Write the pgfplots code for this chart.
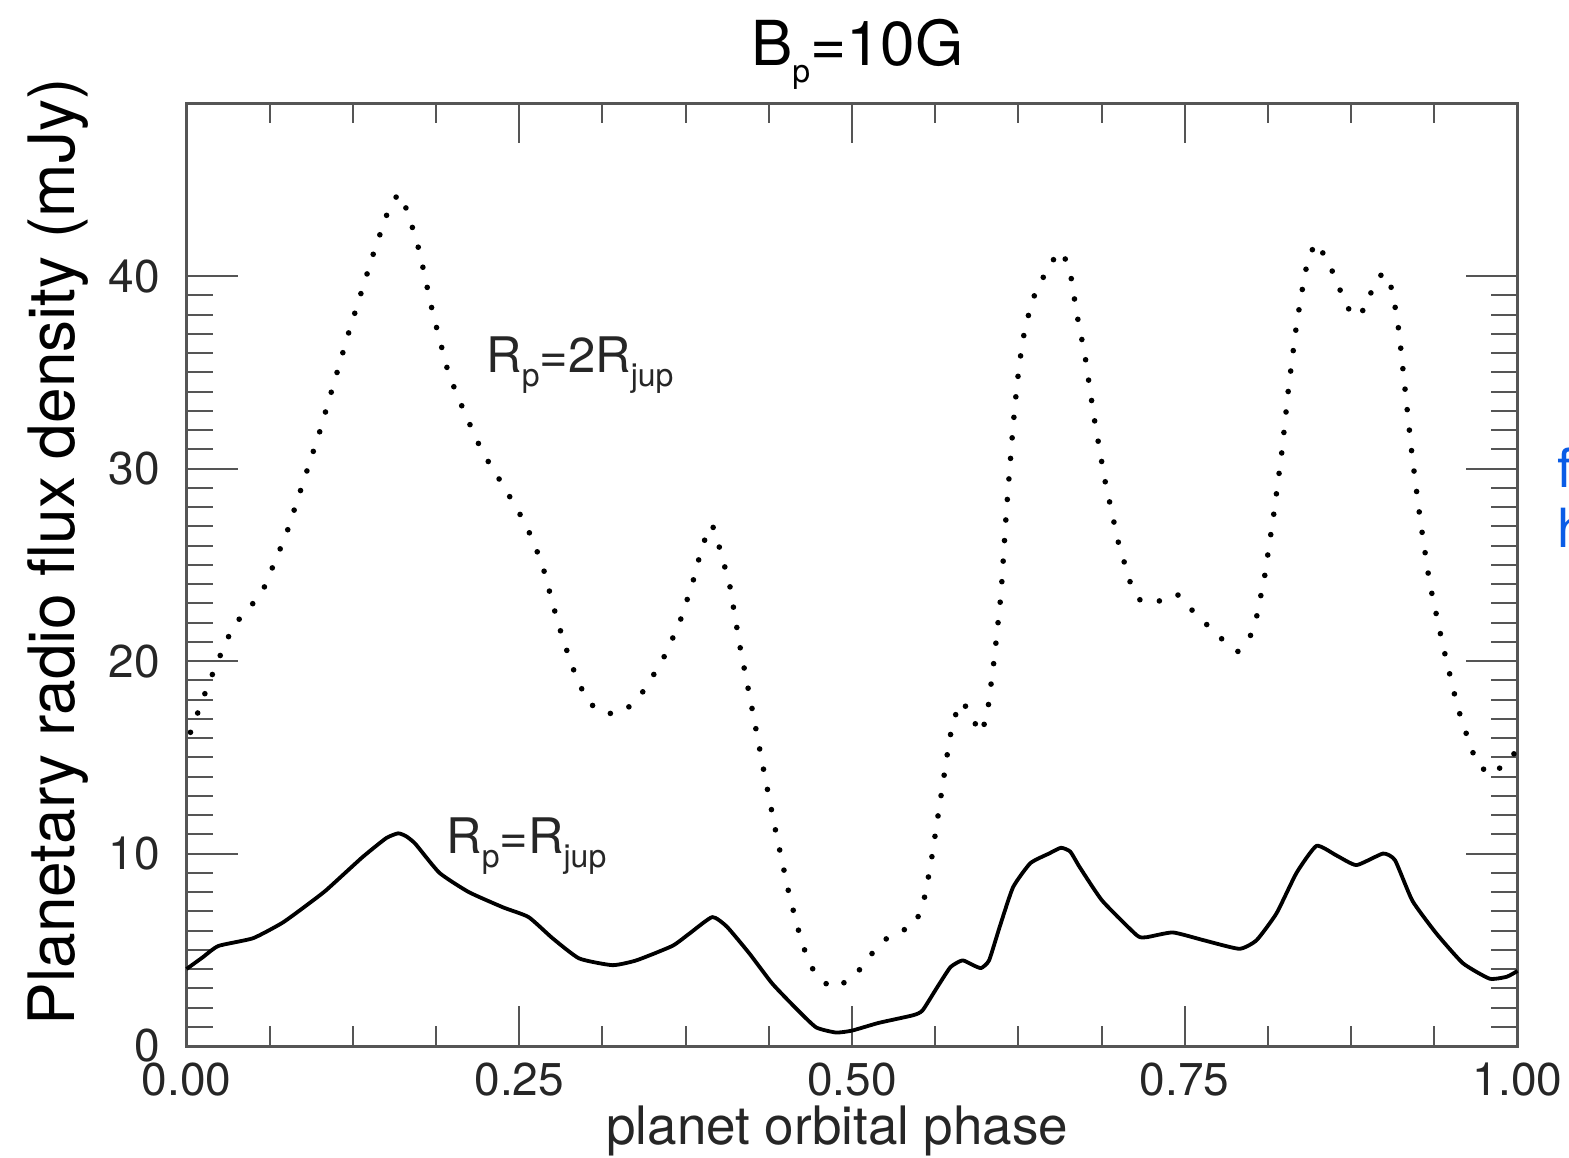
\documentclass[border=0pt]{standalone}
\usepackage{fontspec}
\setmainfont{TeX Gyre Heros}
\usepackage{pgfplots}
\pgfplotsset{compat=1.18}

\definecolor{axgray}{HTML}{555555}
\definecolor{linkblue}{HTML}{0A5CE6}
\newcommand{\sub}[1]{\raisebox{-0.28em}{\fontsize{16}{16}\selectfont #1}}

\begin{document}
\begin{tikzpicture}
\useasboundingbox (-93.25pt,-55.5pt) rectangle (691.25pt,523pt);
\begin{axis}[
  at={(0,0)}, anchor=south west,
  scale only axis,
  width=665.5pt, height=471.5pt,
  xmin=0, xmax=1, ymin=0, ymax=49,
  clip=false,
  xtick={0,0.25,0.5,0.75,1},
  xticklabels={0.00,0.25,0.50,0.75,1.00},
  ytick={0,10,20,30,40},
  yticklabels={0,10,20,30,40},
  minor x tick num=3,
  minor y tick num=9,
  axis line style={axgray, line width=1.5pt},
  tick style={axgray, line width=1pt},
  xtick style={/pgfplots/major tick length=20pt, /pgfplots/minor tick length=10pt},
  ytick style={/pgfplots/major tick length=26pt, /pgfplots/minor tick length=13.5pt},
  tick label style={font=\fontsize{23}{26}\selectfont, text=black!85},
  xticklabel style={anchor=base, yshift=-24.5pt, inner sep=0pt},
  yticklabel style={anchor=east, xshift=-13pt, inner sep=0pt},
  title={B\sub{p}=10G},
  title style={at={(0.504,1)}, anchor=base, yshift=13pt, inner sep=0pt, font=\fontsize{31}{34}\selectfont},
  xlabel={planet orbital phase},
  xlabel style={at={(axis description cs:0.489,-0.104)}, anchor=base, inner sep=0pt, font=\fontsize{26.5}{30}\selectfont, text=black!85},
  ylabel={Planetary radio flux density (mJy)},
  ylabel style={at={(axis description cs:-0.0838,0.5239)}, anchor=base, inner sep=0pt, font=\fontsize{32}{36}\selectfont},
]
% R_p = R_jup
\addplot[black, line width=1.9pt, line join=round, smooth, tension=0.3] coordinates {
  (0,4.0) (0.012,4.6) (0.024,5.2) (0.05,5.6) (0.072,6.4) (0.09,7.3) (0.105,8.1)
  (0.132,9.8) (0.15,10.8) (0.159,11.05) (0.165,10.9) (0.172,10.5) (0.19,9.0)
  (0.212,8.0) (0.238,7.2) (0.257,6.7) (0.275,5.6) (0.295,4.55) (0.32,4.2)
  (0.338,4.45) (0.365,5.2) (0.378,5.85) (0.395,6.7) (0.406,6.2) (0.423,4.8)
  (0.44,3.25) (0.458,1.95) (0.473,0.97) (0.488,0.7) (0.5,0.8) (0.52,1.2)
  (0.546,1.6) (0.553,1.85) (0.564,3.05) (0.574,4.1) (0.583,4.45) (0.591,4.2)
  (0.597,4.05) (0.603,4.45) (0.611,6.2) (0.621,8.25) (0.634,9.5) (0.648,10.0)
  (0.657,10.3) (0.664,10.1) (0.671,9.3) (0.688,7.55) (0.714,5.75) (0.721,5.65)
  (0.741,5.9) (0.764,5.5) (0.791,5.05) (0.804,5.5) (0.819,6.9) (0.834,9.0)
  (0.849,10.4) (0.864,9.9) (0.879,9.4) (0.899,10.0) (0.908,9.65) (0.921,7.55)
  (0.939,5.85) (0.959,4.3) (0.979,3.5) (0.992,3.6) (1.0,3.9)
};
% R_p = 2 R_jup
\addplot[black, line width=2.8pt, line cap=round, dash pattern=on 0pt off 10.3pt] coordinates {
  (0.003,16.3) (0.017,18.9) (0.029,20.9) (0.036,21.9) (0.047,22.75) (0.057,23.6)
  (0.075,26.6) (0.1,31.9) (0.122,37.1) (0.141,41.3) (0.151,43.3) (0.159,44.3)
  (0.166,43.4) (0.175,41.3) (0.185,38.1) (0.197,34.9) (0.209,32.9) (0.222,30.9)
  (0.239,29.0) (0.255,27.1) (0.267,25.1) (0.279,22.0) (0.289,19.85) (0.301,17.9)
  (0.314,17.25) (0.328,17.35) (0.34,18.1) (0.357,19.95) (0.37,21.9) (0.38,24.0)
  (0.388,26.1) (0.395,27.1) (0.4,26.0) (0.408,24.0) (0.416,20.7) (0.425,17.5)
  (0.434,14.2) (0.443,11.05) (0.453,7.8) (0.461,5.7) (0.466,4.65) (0.473,3.65)
  (0.485,3.0) (0.499,3.45) (0.51,4.3) (0.519,5.2) (0.531,5.85) (0.546,6.2)
  (0.553,7.2) (0.559,9.35) (0.566,12.6) (0.573,15.8) (0.576,16.9) (0.582,17.9)
  (0.59,17.3) (0.595,16.25) (0.601,16.9) (0.603,18.0) (0.607,20.2) (0.612,23.5)
  (0.616,27.8) (0.621,32.2) (0.624,34.4) (0.628,36.6) (0.635,38.7) (0.642,39.7)
  (0.649,40.7) (0.658,41.3) (0.664,40.2) (0.669,38.0) (0.675,35.9) (0.682,32.6)
  (0.69,29.4) (0.7,26.2) (0.709,24.1) (0.717,23.1) (0.73,23.1) (0.744,23.5)
  (0.754,22.75) (0.765,22.0) (0.777,21.2) (0.79,20.5) (0.799,21.25) (0.804,22.3)
  (0.81,24.4) (0.817,27.7) (0.823,30.9) (0.828,34.2) (0.834,37.5) (0.839,39.6)
  (0.842,40.7) (0.848,41.75) (0.857,40.9) (0.869,38.9) (0.876,37.9) (0.887,38.35)
  (0.891,39.45) (0.899,40.2) (0.906,39.3) (0.911,37.1) (0.916,33.8) (0.921,30.55)
  (0.927,27.3) (0.934,24.05) (0.944,20.8) (0.955,17.6) (0.965,15.5) (0.971,14.5)
  (0.983,14.1) (0.992,14.95) (1.0,15.3)
};

% curve labels
\node[anchor=base west, inner sep=0pt, font=\fontsize{24.5}{28}\selectfont, text=black!85]
  at (axis cs:0.225,35.0) {R\sub{p}=2R\sub{jup}};
\node[anchor=base west, inner sep=0pt, font=\fontsize{24.5}{28}\selectfont, text=black!85]
  at (axis cs:0.195,10.0) {R\sub{p}=R\sub{jup}};

% cut-off text at the right edge
\node[anchor=base west, inner sep=0pt, font=\fontsize{27}{30}\selectfont, text=linkblue]
  at (axis cs:1.0295,29.0) {from};
\node[anchor=base west, inner sep=0pt, font=\fontsize{27}{30}\selectfont, text=linkblue]
  at (axis cs:1.0295,25.9) {http};
\end{axis}
\end{tikzpicture}
\end{document}
